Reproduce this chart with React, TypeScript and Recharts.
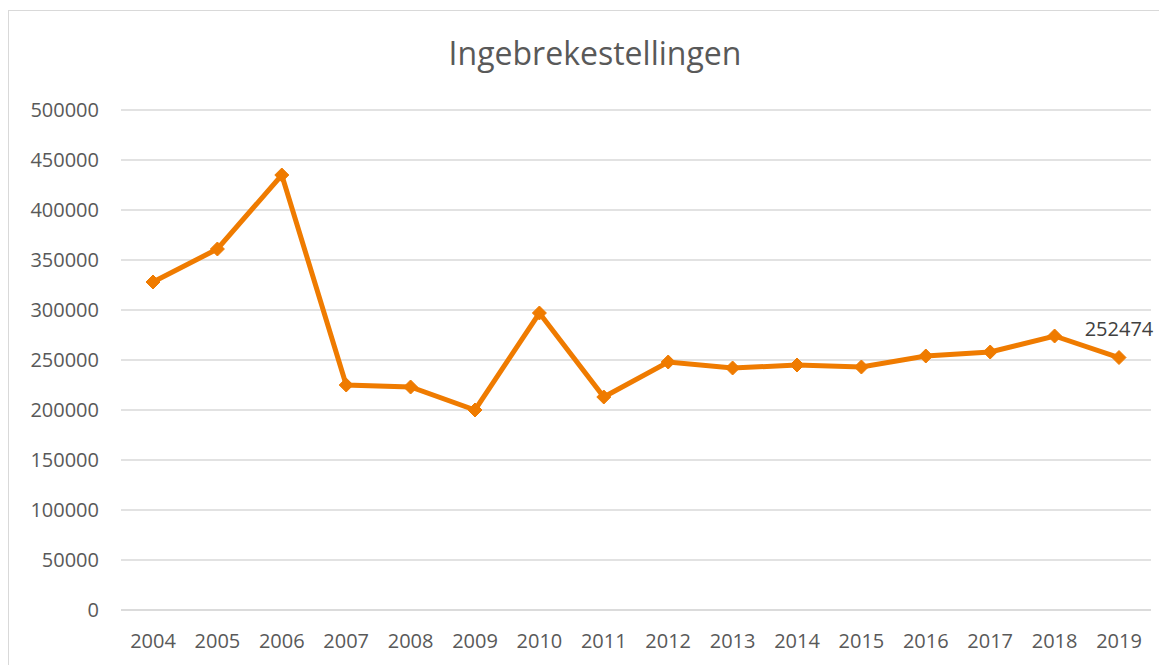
import { LineChart, Line, XAxis, YAxis, CartesianGrid } from 'recharts';

const years = ['2004', '2005', '2006', '2007', '2008', '2009', '2010', '2011', '2012', '2013', '2014', '2015', '2016', '2017', '2018', '2019'];
const counts = [328000, 361000, 435000, 225000, 223000, 200000, 297000, 213000, 248000, 242000, 245000, 243000, 254000, 258000, 274000, 252474];
const yTicks = [0, 50000, 100000, 150000, 200000, 250000, 300000, 350000, 400000, 450000, 500000];

const data = years.map((year, i) => ({ year, value: counts[i] }));

const ORANGE = '#EF7B00';
const TEXT = '#595959';
const FONT = '"Open Sans", sans-serif';

const Diamond = (props: any) => {
  const { cx, cy } = props;
  if (cx == null || cy == null) return null;
  const r = 7;
  return (
    <polygon
      points={`${cx},${cy - r} ${cx + r},${cy} ${cx},${cy + r} ${cx - r},${cy}`}
      fill={ORANGE}
      stroke={ORANGE}
    />
  );
};

const LastLabel = (props: any) => {
  const { x, y, index, value } = props;
  if (index !== counts.length - 1) return null;
  return (
    <text x={x} y={y - 22} textAnchor="middle" fill="#404040" fontSize={20} fontFamily={FONT}>
      {value}
    </text>
  );
};

export default function App() {
  return (
    <div
      style={{
        position: 'relative',
        marginTop: 2,
        width: 1150,
        height: 680,
        border: '1px solid #d9d9d9',
        fontFamily: FONT,
      }}
    >
      <div
        style={{
          position: 'absolute',
          top: 20,
          left: 0,
          width: 1172,
          textAlign: 'center',
          fontSize: 32,
          color: TEXT,
        }}
      >
        Ingebrekestellingen
      </div>
      <LineChart width={1150} height={680} data={data} margin={{ top: 99, right: 8, bottom: 41, left: 0 }}>
        <CartesianGrid vertical={false} stroke="#d9d9d9" strokeWidth={1.5} />
        <XAxis
          dataKey="year"
          tickLine={false}
          axisLine={{ stroke: '#d9d9d9', strokeWidth: 1.5 }}
          tick={{ fill: TEXT, fontSize: 20, fontFamily: FONT }}
          tickMargin={18}
          height={40}
          interval={0}
          padding={{ left: 32, right: 32 }}
        />
        <YAxis
          domain={[0, 500000]}
          ticks={yTicks}
          tickLine={false}
          axisLine={false}
          tick={{ fill: TEXT, fontSize: 20, fontFamily: FONT }}
          tickMargin={16}
          width={112}
          interval={0}
        />
        <Line
          type="linear"
          dataKey="value"
          stroke={ORANGE}
          strokeWidth={5}
          dot={<Diamond />}
          activeDot={false}
          label={<LastLabel />}
          isAnimationActive={false}
        />
      </LineChart>
    </div>
  );
}
